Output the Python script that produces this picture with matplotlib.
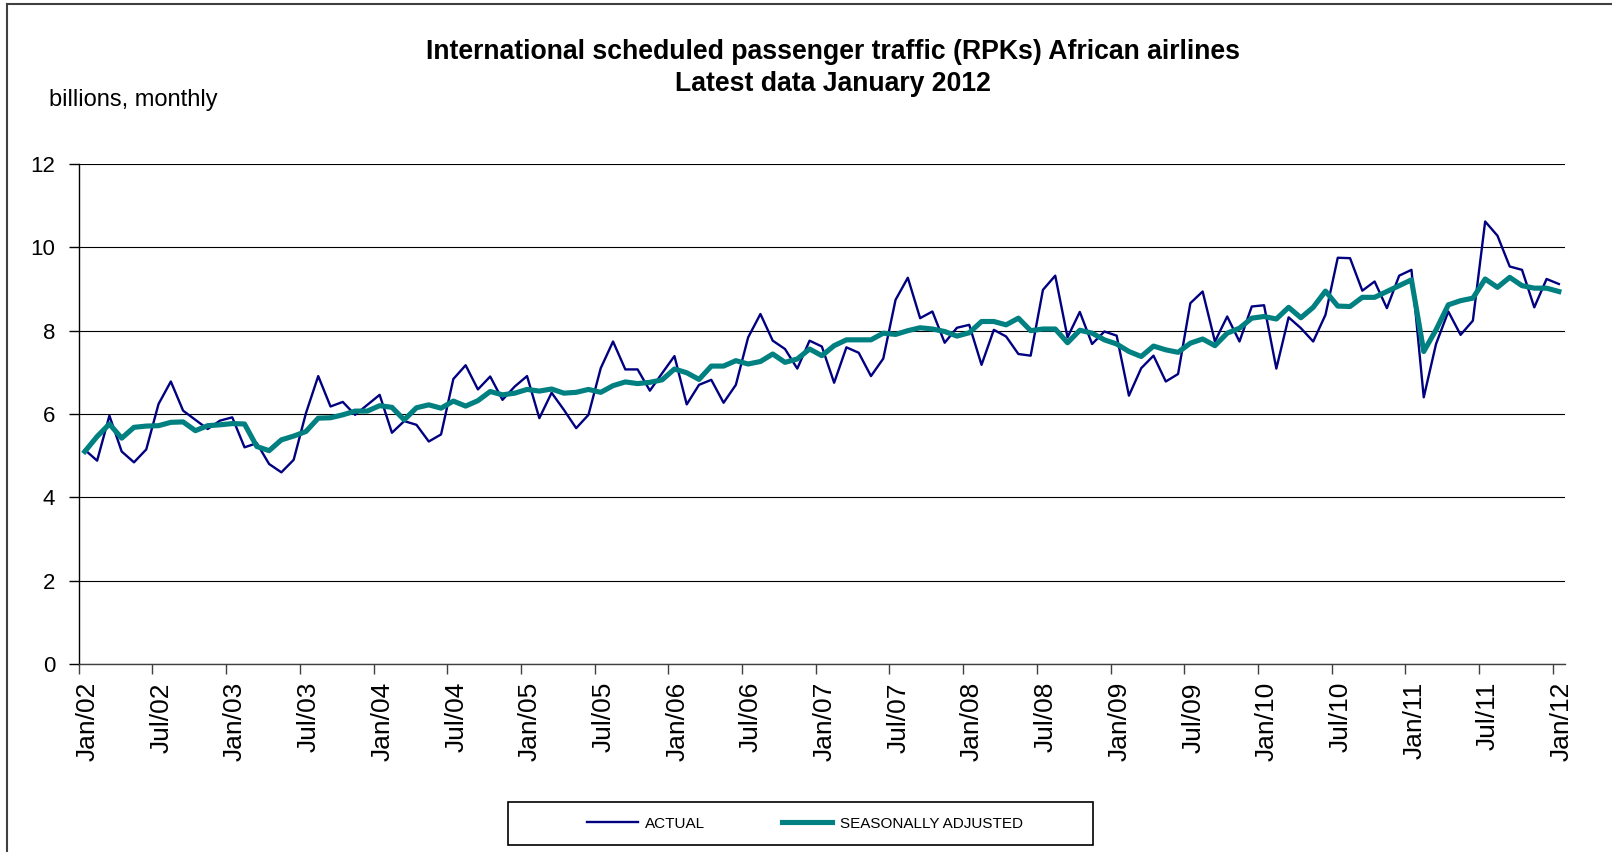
import matplotlib
matplotlib.use('Agg')
import matplotlib.pyplot as plt
import matplotlib.transforms as mtransforms
from matplotlib.lines import Line2D
from matplotlib.patches import Rectangle

plt.rcParams['font.family'] = ['Liberation Sans', 'DejaVu Sans']

# ---------------- data (billions RPKs, monthly, Jan 2002 - Jan 2012) ----------------
actual = [
    5.14, 4.88, 5.96, 5.10, 4.84, 5.15, 6.24, 6.78, 6.08, 5.86, 5.64, 5.84,   # 2002
    5.92, 5.20, 5.30, 4.80, 4.60, 4.90, 6.02, 6.91, 6.18, 6.29, 5.98, 6.22,   # 2003
    6.46, 5.55, 5.83, 5.74, 5.34, 5.51, 6.84, 7.17, 6.59, 6.90, 6.34, 6.66,   # 2004
    6.91, 5.90, 6.51, 6.10, 5.66, 5.98, 7.10, 7.74, 7.07, 7.07, 6.56, 6.98,   # 2005
    7.39, 6.23, 6.70, 6.82, 6.27, 6.70, 7.84, 8.40, 7.76, 7.56, 7.09, 7.76,   # 2006
    7.62, 6.75, 7.60, 7.47, 6.91, 7.33, 8.74, 9.27, 8.30, 8.46, 7.71, 8.07,   # 2007
    8.14, 7.18, 8.02, 7.86, 7.44, 7.40, 8.98, 9.32, 7.84, 8.45, 7.68, 7.98,   # 2008
    7.88, 6.44, 7.10, 7.40, 6.78, 6.96, 8.66, 8.94, 7.74, 8.34, 7.74, 8.58,   # 2009
    8.61, 7.09, 8.32, 8.06, 7.74, 8.38, 9.75, 9.74, 8.96, 9.18, 8.54, 9.32,   # 2010
    9.46, 6.40, 7.68, 8.46, 7.90, 8.24, 10.62, 10.28, 9.54, 9.46, 8.56, 9.24, # 2011
    9.12,                                                                      # Jan 2012
]
seasonally_adjusted = [
    5.10, 5.46, 5.76, 5.42, 5.68, 5.71, 5.72, 5.80, 5.81, 5.60, 5.72, 5.74,   # 2002
    5.77, 5.76, 5.22, 5.12, 5.38, 5.47, 5.58, 5.90, 5.91, 5.98, 6.07, 6.07,   # 2003
    6.20, 6.16, 5.86, 6.15, 6.22, 6.14, 6.31, 6.19, 6.32, 6.54, 6.46, 6.50,   # 2004
    6.59, 6.55, 6.60, 6.50, 6.52, 6.59, 6.52, 6.68, 6.77, 6.73, 6.76, 6.82,   # 2005
    7.08, 6.99, 6.83, 7.15, 7.15, 7.28, 7.20, 7.26, 7.44, 7.24, 7.32, 7.56,   # 2006
    7.40, 7.64, 7.78, 7.78, 7.78, 7.94, 7.91, 8.00, 8.07, 8.04, 7.98, 7.87,   # 2007
    7.95, 8.22, 8.22, 8.14, 8.30, 8.00, 8.04, 8.04, 7.71, 8.01, 7.94, 7.78,   # 2008
    7.68, 7.50, 7.38, 7.63, 7.54, 7.48, 7.70, 7.80, 7.64, 7.94, 8.06, 8.30,   # 2009
    8.34, 8.28, 8.56, 8.31, 8.56, 8.95, 8.59, 8.58, 8.80, 8.80, 8.94, 9.08,   # 2010
    9.22, 7.50, 8.02, 8.62, 8.72, 8.78, 9.24, 9.04, 9.28, 9.08, 9.02, 9.02,   # 2011
    8.94,                                                                      # Jan 2012
]
tick_labels = ['Jan/02', 'Jul/02', 'Jan/03', 'Jul/03', 'Jan/04', 'Jul/04', 'Jan/05',
               'Jul/05', 'Jan/06', 'Jul/06', 'Jan/07', 'Jul/07', 'Jan/08', 'Jul/08',
               'Jan/09', 'Jul/09', 'Jan/10', 'Jul/10', 'Jan/11', 'Jul/11', 'Jan/12']
y_ticks = [0, 2, 4, 6, 8, 10, 12]
series_names = ['ACTUAL', 'SEASONALLY ADJUSTED']

# ---------------- figure ----------------
W, H = 1612, 852
fig = plt.figure(figsize=(W / 100, H / 100), dpi=100)
fig.patch.set_facecolor('white')

ax_left, ax_right, ax_top, ax_bottom = 78.7, 1565, 164, 664
ax = fig.add_axes([ax_left / W, 1 - ax_bottom / H,
                   (ax_right - ax_left) / W, (ax_bottom - ax_top) / H])

months = [i + 0.5 for i in range(len(actual))]
l1, = ax.plot(months, actual, color='#000080', lw=1.7, label=series_names[0], zorder=3)
l2, = ax.plot(months, seasonally_adjusted, color='#008080', lw=3.7,
              label=series_names[1], zorder=4)

ax.set_xlim(0, len(actual))
ax.set_ylim(0, 12)
ax.set_yticks(y_ticks)
ax.set_yticklabels([str(v) for v in y_ticks], fontsize=16)
ax.set_xticks(range(0, len(actual), 6))
ax.set_xticklabels(tick_labels, rotation=90, fontsize=19)
ax.tick_params(axis='x', length=7, width=1, pad=6, direction='out', color='#404040')
ax.tick_params(axis='y', length=7, width=1, pad=10, direction='out')
shift = mtransforms.ScaledTranslation(9 / 100, 0, fig.dpi_scale_trans)
for lbl in ax.get_xticklabels():
    lbl.set_transform(lbl.get_transform() + shift)
for s in ['top', 'right']:
    ax.spines[s].set_visible(False)
ax.spines['left'].set_linewidth(1)
ax.spines['bottom'].set_linewidth(1)
ax.spines['bottom'].set_color('#404040')
ax.grid(axis='y', color='black', lw=0.8)
ax.set_axisbelow(True)

# titles
fig.text(833 / W, 1 - 52 / H, 'International scheduled passenger traffic (RPKs) African airlines',
         ha='center', va='center', fontsize=19.2, fontweight='bold')
fig.text(833 / W, 1 - 84 / H, 'Latest data January 2012',
         ha='center', va='center', fontsize=19.2, fontweight='bold')
fig.text(49 / W, 1 - 100 / H, 'billions, monthly', ha='left', va='center', fontsize=17)

# legend with a custom frame
fig.add_artist(Rectangle((508 / W, 1 - 845 / H), (1093 - 508) / W, (845 - 802) / H,
                         transform=fig.transFigure, fill=False, edgecolor='black', lw=1.2))
fig.legend(handles=[l1, l2], loc='center', bbox_to_anchor=(805 / W, 1 - 823.5 / H),
           ncol=2, frameon=False, fontsize=11, handlelength=3.3, handletextpad=0.5,
           columnspacing=5.0)

# outer chart border (left and top)
fig.add_artist(Line2D([7 / W, 7 / W], [0, 1 - 3.5 / H], transform=fig.transFigure,
                      color='#404040', lw=1.5))
fig.add_artist(Line2D([7 / W, 1], [1 - 3.5 / H, 1 - 3.5 / H], transform=fig.transFigure,
                      color='#404040', lw=1.5))

fig.savefig('out.png', dpi=100)
